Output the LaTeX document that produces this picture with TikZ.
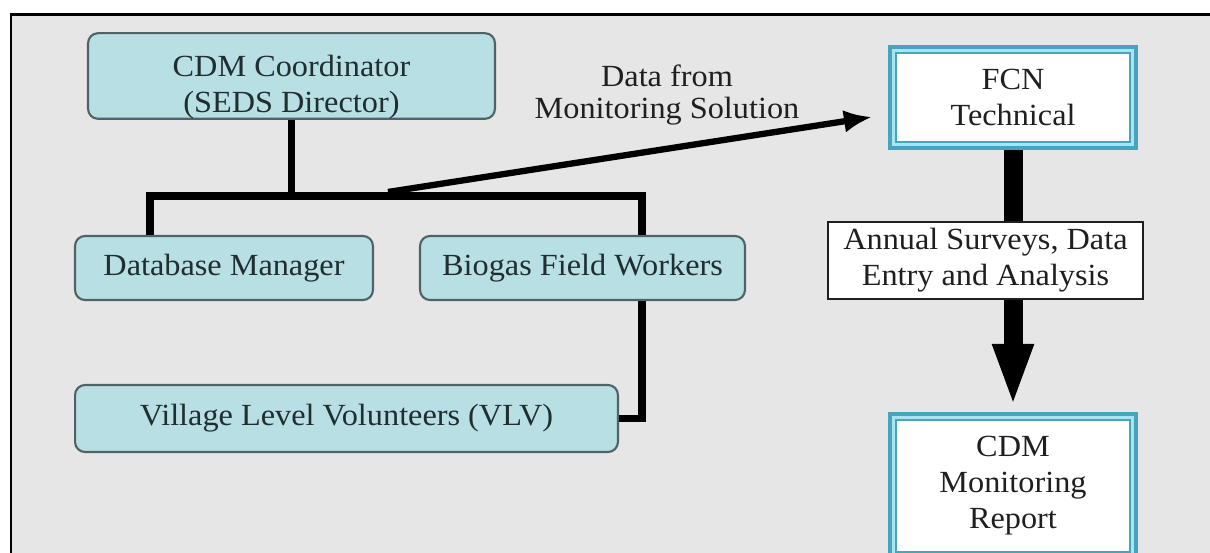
\documentclass[tikz,border=0pt]{standalone}
\usepackage{fontspec}
\setmainfont{Liberation Serif}[FakeStretch=1.05]
\usetikzlibrary{arrows.meta}

\definecolor{panel}{HTML}{E6E6E6}
\definecolor{boxfill}{HTML}{B8DFE3}
\definecolor{boxline}{HTML}{4F6266}
\definecolor{frameteal}{HTML}{4AA3BD}
\definecolor{framepale}{HTML}{A6E6F2}
\definecolor{ink}{HTML}{1F1F1F}
\definecolor{boxink}{HTML}{1E2E31}

\tikzset{
    staff/.style={draw=boxline, line width=1.2pt, fill=boxfill, rounded corners=0.2cm,
        text=boxink, align=center, inner sep=0pt, font=\fontsize{17.5}{20.5}\selectfont},
    reportbox/.style={draw=frameteal, line width=4.5pt, fill=white, text=ink,
        align=center, inner sep=0pt, font=\fontsize{17.5}{20.5}\selectfont},
    stepnote/.style={draw=ink, line width=0.9pt, fill=white, text=ink,
        align=center, inner sep=0pt, font=\fontsize{17.5}{20.5}\selectfont},
    orgline/.style={line width=4pt},
}

\begin{document}
\begin{tikzpicture}[x=0.02cm, y=-0.02cm] % one unit = one pixel of the original
    \useasboundingbox (0,0) rectangle (1210,553);
    \fill[white] (0,0) rectangle (1210,553);
    \fill[panel] (11,15) rectangle (1210,553);
    \draw[line width=1.7pt] (11,553) -- (11,15) -- (1210,15);

    % organisation on the left
    \node[staff, minimum width=8.14cm, minimum height=1.68cm] (coord) at (291.5,76)
        {\fontsize{17.5}{17}\selectfont\mbox{}\\[4pt]CDM Coordinator\\(SEDS Director)};
    \node[staff, minimum width=5.96cm, minimum height=1.28cm] (dbm) at (224,268) {Database Manager};
    \node[staff, minimum width=6.5cm, minimum height=1.28cm] (bfw) at (582.5,268) {Biogas Field Workers};
    \node[staff, minimum width=10.86cm, minimum height=1.34cm] (vlv) at (346.5,418.5) {Village Level Volunteers (VLV)};

    % reporting chain on the right
    \node[reportbox, minimum width=4.84cm, minimum height=1.94cm] (fcn) at (1013,97.5) {FCN\\Technical};
    \node[reportbox, minimum width=4.84cm, minimum height=2.8cm] (report) at (1013,486) {CDM\\Monitoring\\Report};
    \foreach \b in {fcn,report} {
        \draw[framepale, line width=1.7pt] ([shift={(5.5,5.5)}]\b.north west) rectangle ([shift={(-5.5,-5.5)}]\b.south east);
        \draw[frameteal, line width=0.8pt] ([shift={(8,8)}]\b.north west) rectangle ([shift={(-8,-8)}]\b.south east);
    }

    \coordinate (busL) at (150,196);
    \coordinate (busR) at (642,196);
    \coordinate (tap) at (388,192);

    \draw[orgline] (coord.south) -- (coord.south |- busL);
    \draw[orgline] (dbm.north -| busL) -- (busL) -- (busR) -- (bfw.north -| busR);
    \draw[orgline] (bfw.south -| busR) |- (vlv.east);

    \draw[line width=3.6pt, -{Latex[length=16pt,width=13pt]}] (tap) -- ([shift={(-16,19.5)}]fcn.west);
    \node[text=ink, align=center, font=\fontsize{17.5}{18}\selectfont] (datalbl) at (667,95)
        {Data from\\Monitoring Solution};

    \draw[line width=10.8pt, -{Triangle[length=36pt,width=21pt]}, shorten >=2.8pt] (fcn.south) -- (report.north);
    \node[stepnote, minimum width=6.3cm, minimum height=1.54cm] (survey) at (985.5,260.5)
        {Annual Surveys, Data\\Entry and Analysis};
\end{tikzpicture}
\end{document}
